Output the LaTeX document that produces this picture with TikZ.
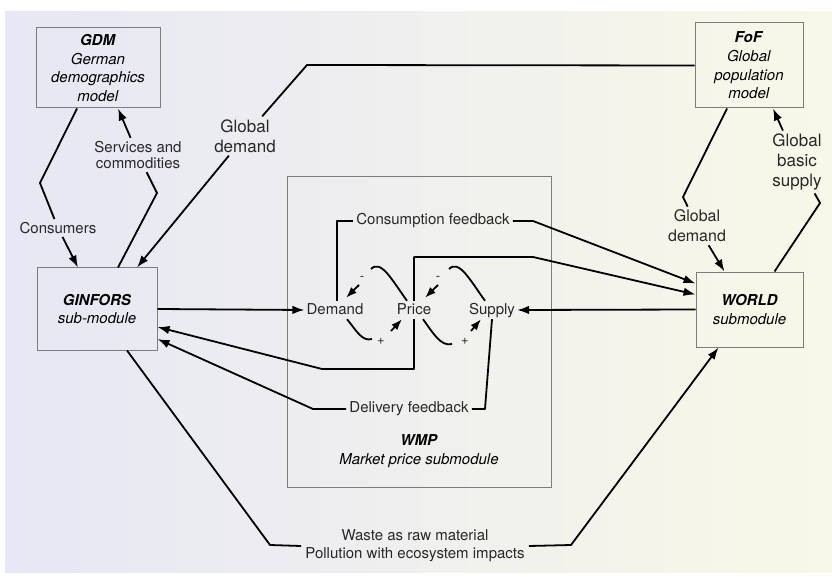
\documentclass[tikz,border=0pt]{standalone}
\usepackage{fontspec}
\setmainfont{TeX Gyre Heros}
\usetikzlibrary{arrows.meta}

\definecolor{bgleft}{RGB}{231,231,245}
\definecolor{bgright}{RGB}{248,248,232}
\definecolor{boxline}{RGB}{125,125,125}
\definecolor{txt}{RGB}{40,40,40}

\newcommand{\lblfont}{\fontsize{15}{18}\selectfont}
\newcommand{\lblbig}{\fontsize{17}{20}\selectfont}

\begin{document}
\begin{tikzpicture}[x=1pt, y=-1pt,
  box/.style={draw=boxline, line width=1pt, align=center, inner sep=0pt, font=\fontsize{15}{18.7}\selectfont},
  lbl/.style={text=txt, align=center, font=\lblfont, inner sep=3pt},
  var/.style={lbl, text height=11pt, text depth=3pt, inner sep=2pt},
  sign/.style={text=txt, font=\fontsize{13}{13}\selectfont, inner sep=1pt},
  conn/.style={line width=1.8pt, line join=round},
  arr/.style={conn, -{Latex[length=12pt,width=8.5pt]}},
  small/.style={conn, -{Latex[length=11pt,width=8pt]}}]

  % Frame and background
  \useasboundingbox (0,0) rectangle (832,577);
  \shade[left color=bgleft, right color=bgright] (5,12) rectangle (832,572);

  % Models
  \node[box, minimum width=124pt, minimum height=80pt] (GDM) at (98,68)
    {\textbf{\textit{GDM}}\\\textit{German}\\\textit{demographics}\\\textit{model}};
  \node[box, minimum width=108pt, minimum height=85pt] (FoF) at (749,65.5)
    {\textbf{\textit{FoF}}\\\textit{Global}\\\textit{population}\\\textit{model}};
  \node[box, minimum width=120pt, minimum height=82pt] (GINFORS) at (97,309)
    {\textbf{\textit{GINFORS}}\\\textit{sub-module}};
  \node[box, minimum width=107pt, minimum height=75pt] (WORLD) at (749.5,309.5)
    {\textbf{\textit{WORLD}}\\\textit{submodule}};

  % Market price submodule
  \node[box, minimum width=264pt, minimum height=310pt] (WMP) at (419,332) {};
  \node[align=center, font=\fontsize{15}{18.7}\selectfont] (wmptitle) at (419,451)
    {\textbf{\textit{WMP}}\\\textit{Market price submodule}};

  \node[var] (demand) at (335,310) {Demand};
  \node[var] (price) at (414,310) {Price};
  \node[var] (supply) at (492,310) {Supply};

  % Labels
  \node[lbl] (consumers) at (58,228) {Consumers};
  \node[lbl, font=\fontsize{15}{16.5}\selectfont] (services) at (138,155) {Services and\\commodities};
  \node[lbl, font=\lblbig] (gdemL) at (245,136) {Global\\demand};
  \node[lbl, font=\fontsize{16}{20}\selectfont] (gdemR) at (697,226) {Global\\demand};
  \node[lbl, font=\lblbig] (gbs) at (797,162) {Global\\basic\\supply};
  \node[lbl] (cfb) at (433,221) {Consumption feedback};
  \node[lbl] (dfb) at (409,409) {Delivery feedback};
  \node[lbl, inner sep=4pt] (waste) at (415,546) {Waste as raw material\\Pollution with ecosystem impacts};

  % GDM <-> GINFORS
  \draw[conn] ([xshift=-21pt]GDM.south) -- (40,183) -- (consumers);
  \draw[arr] (consumers) -- ([xshift=-19pt]GINFORS.north);
  \draw[conn] ([xshift=21pt]GINFORS.north) -- (157,193) -- (services);
  \draw[arr] (services) -- ([xshift=20pt]GDM.south);

  % FoF <-> GINFORS / WORLD
  \draw[conn] (FoF.west) -- (307,65) -- (gdemL);
  \draw[arr] (gdemL) -- ([xshift=40pt]GINFORS.north);
  \draw[conn] ([xshift=-22pt]FoF.south) -- (683,197) -- (gdemR);
  \draw[arr] (gdemR) -- ([xshift=-25pt]WORLD.north);
  \draw[conn] ([xshift=25pt]WORLD.north) -- (820,203) -- (gbs);
  \draw[arr] (gbs) -- ([xshift=24pt]FoF.south);

  % Into and out of the market
  \draw[arr] (GINFORS.east) -- (demand.west);
  \draw[arr] (WORLD.west) -- (supply.east);
  \draw[conn] ([xshift=2pt]demand.north) |- (cfb.west);
  \draw[arr] (cfb.east) -- (533,221) -- ([yshift=26pt]WORLD.west);
  \draw[arr] (price.north) |- (533,257) -- ([yshift=15pt]WORLD.west);
  \draw[arr] (price.south) |- (322,369) -- ([yshift=-18pt]GINFORS.east);
  \draw[conn] (supply.south) -- (485,409) -- (dfb.east);
  \draw[arr] (dfb.west) -- (313,409) -- ([yshift=-30pt]GINFORS.east);

  % Waste and pollution
  \draw[conn] ([xshift=30pt]GINFORS.south) -- (270,545) -- (waste.west);
  \draw[arr] (waste.east) -- (571,545) -- ([xshift=-31pt]WORLD.south);

  % Causal loops
  \node[sign] (m1) at (362,278) {-};
  \node[sign] (m2) at (438,278) {-};
  \node[sign] (p1) at (381,341) {+};
  \node[sign] (p2) at (465,341) {+};
  \draw[conn] ([xshift=-7pt]price.north) .. controls (392,280) and (381,259) .. (371,269);
  \draw[small] (359,285) -- ([xshift=11pt,yshift=3pt]demand.north);
  \draw[conn] ([xshift=-7pt]supply.north) .. controls (470,280) and (459,259) .. (449,269);
  \draw[small] (438,285) -- ([xshift=11pt,yshift=3pt]price.north);
  \draw[conn] ([xshift=12pt]demand.south) .. controls (356,330) and (362,342) .. (372,339);
  \draw[small] (391,331) -- ([xshift=-12pt]price.south);
  \draw[conn] ([xshift=9pt]price.south) .. controls (433,333) and (441,347) .. (452,344);
  \draw[small] (471,331) -- ([xshift=-11pt]supply.south);
\end{tikzpicture}
\end{document}
